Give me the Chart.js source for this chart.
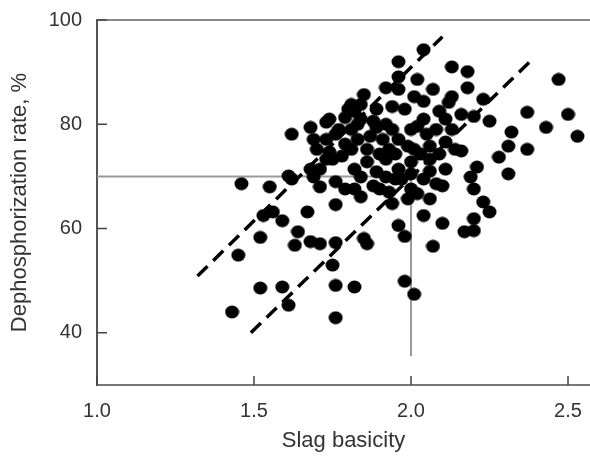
<!DOCTYPE html>
<html>
<head>
<meta charset="utf-8">
<script src="https://cdn.jsdelivr.net/npm/chart.js@4"></script>
<style>body{margin:0;background:#fff}</style>
</head>
<body>
<canvas id="myChart" width="590" height="459"></canvas>
<script>
// slag basicity (x) and dephosphorization rate, % (y) of each heat
let basicity = [1.43,1.52,1.59,1.61,1.45,1.52,1.46,1.55,1.53,1.56,1.59,1.67,1.64,1.63,1.68,1.71,1.76,1.75,1.76,1.82,1.76,1.76,1.62,1.71,
  1.62,1.68,1.69,1.73,1.68,1.69,1.61,1.75,1.78,1.76,1.73,1.77,1.79,1.81,1.82,1.74,1.74,1.81,1.80,1.73,
  1.96,2.04,2.02,2.13,1.96,1.96,2.01,2.07,2.09,2.04,2.12,1.94,1.84,1.89,2.08,2.02,1.94,1.87,1.99,2.06,2.11,1.83,1.91,1.86,1.89,
  1.92,2.00,2.06,2.11,1.82,1.88,1.93,1.97,2.04,2.10,1.84,1.94,1.99,2.04,2.10,2.07,1.96,1.98,1.85,1.86,1.98,2.01,
  1.79,1.83,1.88,1.92,1.96,2.00,2.04,1.86,1.90,1.95,2.01,1.82,1.79,1.96,2.00,2.06,1.92,2.02,2.06,1.84,
  2.18,2.18,2.13,2.23,2.16,2.20,2.25,2.13,2.16,2.21,2.19,2.20,2.23,2.25,2.20,2.17,2.20,2.28,2.31,2.32,2.37,2.37,2.31,2.43,2.50,2.53,2.47,
  1.85,1.92,1.98,2.05,1.89,1.93,1.81,2.03,2.09,1.95,2.08,1.90,2.00,2.14,2.11,1.76,1.71,1.84,1.70];
let dephos = [44.0,48.6,48.8,45.3,54.9,58.3,68.6,68.0,62.5,63.2,61.5,63.2,59.4,56.8,57.5,57.1,57.3,53.0,49.1,48.8,42.9,64.6,69.5,68.0,
  78.1,79.4,77.1,80.4,71.4,69.9,70.1,73.3,73.9,69.0,77.1,79.0,81.3,83.8,82.5,81.0,74.7,79.0,82.9,73.3,
  92.0,94.3,88.6,91.0,89.1,86.7,85.3,86.7,82.5,84.4,84.2,83.4,83.8,82.9,79.0,79.6,79.0,77.7,75.8,75.8,76.6,77.1,77.1,72.8,70.9,
  73.3,72.8,73.3,71.4,67.6,68.2,67.0,69.5,69.5,68.2,69.9,64.8,65.7,62.5,61.0,56.6,60.6,58.5,58.1,57.1,49.9,47.4,
  76.2,80.0,80.6,80.0,77.1,79.0,81.0,75.2,74.3,74.3,75.2,71.4,67.6,71.4,70.5,71.0,69.9,66.7,65.7,66.1,
  90.1,87.0,85.3,84.8,81.9,81.5,80.6,79.0,74.9,71.8,69.9,67.6,65.1,63.2,61.9,59.4,59.6,73.7,75.8,78.5,82.3,75.2,70.5,79.4,81.9,77.7,88.6,
  85.7,87.0,82.9,78.1,79.4,75.2,75.2,74.3,74.3,69.5,68.6,67.6,67.6,75.2,81.0,78.1,71.4,81.0,75.2];

let xTicks = [1.0, 1.5, 2.0, 2.5];
let yTicks = [40, 60, 80, 100];

// guide lines: B = 2.0 and 70 % level
let guideX = [1.0, 2.0, 2.0];
let guideY = [70, 70, 35.5];
// dashed band
let upperX = [1.32, 2.10], upperY = [50.9, 96.8];
let lowerX = [1.49, 2.385], lowerY = [40.0, 92.4];

function pts(xs, ys) { return xs.map((x, i) => ({x: x, y: ys[i]})); }

function ellipseDot(w, h) {
  let c = document.createElement('canvas');
  c.width = w; c.height = h;
  let g = c.getContext('2d');
  g.fillStyle = '#000';
  g.beginPath();
  g.ellipse(w / 2, h / 2, w / 2 - 0.5, h / 2 - 0.5, 0, 0, Math.PI * 2);
  g.fill();
  return c;
}

// inward tick marks and the top frame line
const frame = {
  id: 'frame',
  afterDraw(chart) {
    let ctx = chart.ctx, a = chart.chartArea;
    let xs = chart.scales.x, ys = chart.scales.y;
    ctx.save();
    ctx.strokeStyle = '#888';
    ctx.lineWidth = 2;
    ctx.beginPath();
    ctx.moveTo(a.left, a.top); ctx.lineTo(a.right, a.top);
    ctx.stroke();
    ctx.strokeStyle = '#444';
    ctx.lineWidth = 1.5;
    ctx.beginPath();
    yTicks.forEach(v => { let p = ys.getPixelForValue(v); ctx.moveTo(a.left, p); ctx.lineTo(a.left + 10, p); });
    xTicks.forEach(v => { let p = xs.getPixelForValue(v); ctx.moveTo(p, a.bottom); ctx.lineTo(p, a.bottom - 9); });
    ctx.stroke();
    ctx.restore();
  }
};

let tickFont = { family: 'Liberation Sans, Arial', size: 20 };
let titleFont = { family: 'Liberation Sans, Arial', size: 22 };

function renderChart() {
  let ctx = document.getElementById('myChart');
  new Chart(ctx, {
    type: 'scatter',
    data: {
      datasets: [
        { data: pts(basicity, dephos), pointStyle: ellipseDot(15, 14), pointRadius: 7, order: 1 },
        { type: 'line', data: pts(guideX, guideY), borderColor: '#9a9a9a', borderWidth: 2, pointRadius: 0, fill: false, order: 3 },
        { type: 'line', data: pts(upperX, upperY), borderColor: '#000', borderWidth: 3.5, borderDash: [14, 8], pointRadius: 0, fill: false, order: 2 },
        { type: 'line', data: pts(lowerX, lowerY), borderColor: '#000', borderWidth: 3.5, borderDash: [14, 8], pointRadius: 0, fill: false, order: 2 }
      ]
    },
    options: {
      responsive: false,
      animation: false,
      layout: { autoPadding: false, padding: { top: 20, right: 0, left: 0, bottom: 0 } },
      plugins: { legend: { display: false }, tooltip: { enabled: false } },
      scales: {
        x: {
          type: 'linear', min: 1.0, max: 2.57,
          afterBuildTicks: s => { s.ticks = xTicks.map(v => ({value: v})); },
          afterFit: s => { s.height = 74; s.paddingLeft = 0; s.paddingRight = 0; },
          grid: { display: false },
          border: { color: '#777', width: 2 },
          ticks: { color: '#333', padding: 6, font: tickFont, callback: v => v.toFixed(1), maxRotation: 0 },
          title: { display: true, text: 'Slag basicity', color: '#333', font: titleFont, padding: { top: 0, bottom: 5 } }
        },
        y: {
          type: 'linear', min: 30, max: 100,
          afterBuildTicks: s => { s.ticks = yTicks.map(v => ({value: v})); },
          afterFit: s => { s.width = 97; s.paddingTop = 0; s.paddingBottom = 0; },
          grid: { display: false },
          border: { color: '#555', width: 2 },
          ticks: { color: '#333', padding: 7, font: tickFont },
          title: { display: true, text: 'Dephosphorization rate, %', color: '#333', font: titleFont, padding: { top: 7, bottom: 0 } }
        }
      }
    },
    plugins: [frame]
  });
}

renderChart();
</script>
</body>
</html>
